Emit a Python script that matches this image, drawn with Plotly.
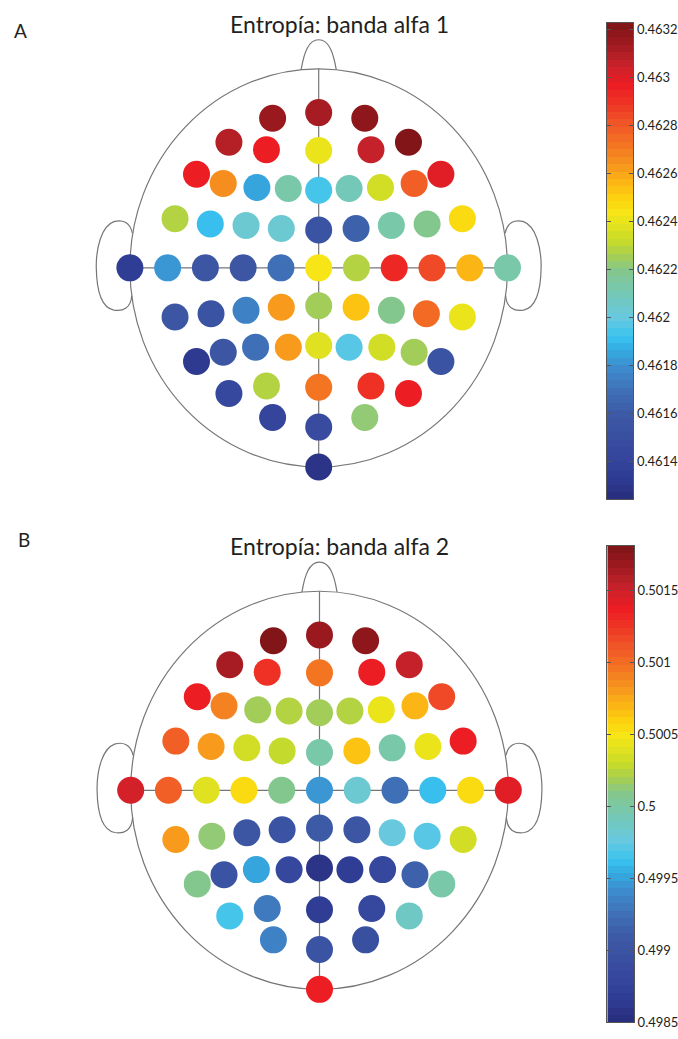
import numpy as np
import plotly.graph_objects as go

# ---- 64-channel montage (polar: angle from nose in degrees, radius in head units) ----
electrodes = ["Fp1", "Fpz", "Fp2", "AF7", "AF3", "AFz", "AF4", "AF8",
              "F7", "F5", "F3", "F1", "Fz", "F2", "F4", "F6", "F8",
              "FT7", "FC5", "FC3", "FC1", "FCz", "FC2", "FC4", "FC6", "FT8",
              "T9", "T7", "C5", "C3", "C1", "Cz", "C2", "C4", "C6", "T8", "T10",
              "TP7", "CP5", "CP3", "CP1", "CPz", "CP2", "CP4", "CP6", "TP8",
              "P7", "P5", "P3", "P1", "Pz", "P2", "P4", "P6", "P8",
              "PO7", "PO3", "POz", "PO4", "PO8",
              "O1", "Oz", "O2", "Iz"]
theta_deg = [-18, 0, 18, -37, -25, 0, 25, 37,
             -54, -50, -39, -22, 0, 22, 39, 50, 54,
             -72, -69, -61, -45, 0, 45, 61, 69, 72,
             -90, -90, -90, -90, -90, 0, 90, 90, 90, 90, 90,
             -108, -112, -119, -135, 180, 135, 119, 112, 108,
             -126, -130, -140, -158, 180, 158, 140, 130, 126,
             -143, -155, 180, 155, 143,
             -162, 180, 162, 180]
radius = [0.79, 0.78, 0.79, 0.79, 0.655, 0.59, 0.655, 0.79,
          0.80, 0.66, 0.52, 0.43, 0.39, 0.43, 0.52, 0.66, 0.80,
          0.80, 0.615, 0.44, 0.28, 0.19, 0.28, 0.44, 0.615, 0.80,
          1.0, 0.8, 0.6, 0.4, 0.2, 0.0, 0.2, 0.4, 0.6, 0.8, 1.0,
          0.80, 0.615, 0.44, 0.28, 0.19, 0.28, 0.44, 0.615, 0.80,
          0.80, 0.66, 0.52, 0.43, 0.39, 0.43, 0.52, 0.66, 0.80,
          0.79, 0.655, 0.60, 0.655, 0.79,
          0.79, 0.80, 0.79, 1.0]

# ---- entropy per electrode ----
entropy_alpha1 = [0.46315, 0.46313, 0.46319, 0.46309, 0.46297, 0.46241, 0.46305, 0.46322,
                  0.46297, 0.46267, 0.46186, 0.46212, 0.46194, 0.46208, 0.46233, 0.46279, 0.46301,
                  0.46229, 0.46192, 0.46202, 0.46204, 0.46154, 0.46164, 0.46214, 0.46220, 0.46247,
                  0.46136, 0.46182, 0.46158, 0.46158, 0.46168, 0.46245, 0.46229, 0.46295, 0.46283, 0.46257, 0.46214,
                  0.46158, 0.46154, 0.46176, 0.46263, 0.46225, 0.46253, 0.46218, 0.46275, 0.46241,
                  0.46132, 0.46156, 0.46168, 0.46263, 0.46237, 0.46196, 0.46233, 0.46224, 0.46154,
                  0.46144, 0.46227, 0.46273, 0.46289, 0.46297,
                  0.46140, 0.46146, 0.46222, 0.46128]
entropy_alpha2 = [0.50179, 0.50168, 0.50171, 0.50161, 0.50125, 0.50098, 0.50138, 0.50155,
                  0.50138, 0.50088, 0.50019, 0.50022, 0.50016, 0.50025, 0.50045, 0.50072, 0.50115,
                  0.50108, 0.50082, 0.50032, 0.50029, 0.49996, 0.50065, 0.49996, 0.50045, 0.50138,
                  0.50148, 0.50105, 0.50039, 0.50055, 0.50006, 0.49946, 0.49982, 0.49923, 0.49963, 0.50052, 0.50141,
                  0.50078, 0.50012, 0.49903, 0.49900, 0.49910, 0.49906, 0.49979, 0.49972, 0.50032,
                  0.50009, 0.49900, 0.49953, 0.49883, 0.49857, 0.49870, 0.49886, 0.49916, 0.49999,
                  0.49966, 0.49929, 0.49870, 0.49886, 0.49989,
                  0.49936, 0.49900, 0.49896, 0.50135]

# ---- colour limits and colour-bar ticks ----
clim_alpha1 = [0.46124, 0.46323]
clim_alpha2 = [0.49850, 0.50181]
ticks_alpha1 = [0.4614, 0.4616, 0.4618, 0.4620, 0.4622, 0.4624, 0.4626, 0.4628, 0.4630, 0.4632]
ticklabels_alpha1 = ["0.4614", "0.4616", "0.4618", "0.462", "0.4622", "0.4624", "0.4626", "0.4628", "0.463", "0.4632"]
ticks_alpha2 = [0.4985, 0.4990, 0.4995, 0.5000, 0.5005, 0.5010, 0.5015]
ticklabels_alpha2 = ["0.4985", "0.499", "0.4995", "0.5", "0.5005", "0.501", "0.5015"]

titles = ["Entropía: banda alfa 1", "Entropía: banda alfa 2"]
panel_letters = ["A", "B"]

# ---- jet-like palette, quantised to 64 levels ----
anchors = [(0.00, "#272c7b"), (0.04, "#2d3a90"), (0.08, "#33449a"), (0.12, "#384c9f"),
           (0.18, "#3d5aa6"), (0.23, "#3f72b8"), (0.28, "#3d8fcf"), (0.31, "#35a8e0"),
           (0.34, "#39c3f0"), (0.38, "#67c9e0"), (0.43, "#74c8b8"), (0.48, "#85c78b"),
           (0.51, "#a4ce55"), (0.54, "#c5da2b"), (0.58, "#e8e31c"), (0.60, "#f7e617"),
           (0.63, "#fdd20f"), (0.67, "#fbb117"), (0.71, "#f68f1f"), (0.75, "#f36f22"),
           (0.79, "#f05428"), (0.83, "#ee3524"), (0.87, "#ec1c24"), (0.91, "#c9222b"),
           (0.95, "#a11b21"), (1.00, "#7b1416")]


def _rgb(h):
    return np.array([int(h[i:i + 2], 16) for i in (1, 3, 5)], dtype=float)


def palette_at(f):
    fs = [a[0] for a in anchors]
    cs = np.array([_rgb(a[1]) for a in anchors])
    return tuple(int(round(np.interp(f, fs, cs[:, k]))) for k in range(3))


N_LEVELS = 64
stepped = []
for i in range(N_LEVELS):
    r, g, b = palette_at((i + 0.5) / N_LEVELS)
    col = f"rgb({r},{g},{b})"
    stepped.append([i / N_LEVELS, col])
    stepped.append([(i + 1) / N_LEVELS, col])

th = np.radians(theta_deg)
ex = np.array(radius) * np.sin(th)
ey = np.array(radius) * np.cos(th)

LINE = "#767676"
FONT = "Lato"
TEXT = "#231f20"

fig = go.Figure()

panels = [
    dict(vals=entropy_alpha1, clim=clim_alpha1, tv=ticks_alpha1, tt=ticklabels_alpha1,
         hx="x", hy="y", cx="x3", cy="y3"),
    dict(vals=entropy_alpha2, clim=clim_alpha2, tv=ticks_alpha2, tt=ticklabels_alpha2,
         hx="x2", hy="y2", cx="x4", cy="y4"),
]

shapes = []
for p in panels:
    # electrodes
    fig.add_trace(go.Scatter(
        x=ex, y=ey, mode="markers", xaxis=p["hx"], yaxis=p["hy"],
        text=electrodes, hovertemplate="%{text}: %{marker.color:.5f}<extra></extra>",
        marker=dict(size=27, color=p["vals"], colorscale=stepped,
                    cmin=p["clim"][0], cmax=p["clim"][1], showscale=False,
                    line=dict(width=0)),
        cliponaxis=False, showlegend=False))

    # colour bar drawn as a one-column heat map on its own axis
    lv = np.linspace(p["clim"][0], p["clim"][1], N_LEVELS + 1)
    centres = (lv[:-1] + lv[1:]) / 2
    fig.add_trace(go.Heatmap(
        x=[0], y=centres, z=[[c] for c in centres], xaxis=p["cx"], yaxis=p["cy"],
        colorscale=stepped, zmin=p["clim"][0], zmax=p["clim"][1],
        showscale=False, hoverinfo="skip"))

    # head outline, midlines, nose and ears
    xr, yr = p["hx"], p["hy"]
    common = dict(xref=xr, yref=yr, layer="below", line=dict(color=LINE, width=1.2))
    shapes.append(dict(type="circle", x0=-1, x1=1, y0=-1, y1=1, **common))
    shapes.append(dict(type="line", x0=-1, x1=1, y0=0, y1=0, **common))
    shapes.append(dict(type="line", x0=0, x1=0, y0=-1, y1=1, **common))
    shapes.append(dict(type="path",
                       path="M -0.093,0.996 C -0.078,1.08 -0.055,1.146 0,1.146 "
                            "C 0.055,1.146 0.078,1.08 0.093,0.996", **common))
    for s in (1, -1):
        ear = (f"M {0.987*s},0.175 C {1.00*s},0.23 {1.04*s},0.245 {1.085*s},0.232 "
               f"C {1.15*s},0.21 {1.18*s},0.10 {1.178*s},0 "
               f"C {1.176*s},-0.11 {1.15*s},-0.2 {1.085*s},-0.212 "
               f"C {1.035*s},-0.22 {0.995*s},-0.2 {0.99*s},-0.14")
        shapes.append(dict(type="path", path=ear, **common))

hidden = dict(visible=False, showgrid=False, zeroline=False)
cb_x = dict(range=[-0.5, 0.5], showgrid=False, zeroline=False, showticklabels=False,
            ticks="", showline=True, linecolor="#555555", linewidth=1, mirror=True)
cb_y = dict(side="right", showgrid=False, zeroline=False, ticks="inside", ticklen=4,
            tickcolor="#555555", showline=True, linecolor="#555555", linewidth=1,
            mirror="ticks", tickfont=dict(family=FONT, size=13, color=TEXT))

fig.update_layout(
    width=678, height=1039,
    margin=dict(l=0, r=0, t=0, b=0),
    paper_bgcolor="white", plot_bgcolor="white",
    xaxis=dict(domain=[0.10802, 0.83209], range=[-1.3, 1.3], anchor="y", **hidden),
    yaxis=dict(domain=[0.52445, 0.97282], range=[-1.12, 1.2], anchor="x", **hidden),
    xaxis2=dict(domain=[0.10920, 0.83327], range=[-1.3, 1.3], anchor="y2", **hidden),
    yaxis2=dict(domain=[0.01723, 0.46560], range=[-1.12, 1.2], anchor="x2", **hidden),
    xaxis3=dict(domain=[0.89484, 0.93407], anchor="y3", **cb_x),
    yaxis3=dict(domain=[0.51617, 0.97911], range=clim_alpha1, anchor="x3",
                tickvals=ticks_alpha1, ticktext=ticklabels_alpha1, **cb_y),
    xaxis4=dict(domain=[0.89571, 0.93510], anchor="y4", **cb_x),
    yaxis4=dict(domain=[0.00866, 0.47132], range=clim_alpha2, anchor="x4",
                tickvals=ticks_alpha2, ticktext=ticklabels_alpha2, **cb_y),
    shapes=shapes,
    annotations=[
        dict(text=titles[0], x=0.5, y=1 - 23.5 / 1039, xref="paper", yref="paper",
             xanchor="center", yanchor="middle", showarrow=False,
             font=dict(family=FONT, size=23, color=TEXT)),
        dict(text=titles[1], x=0.5, y=1 - 549.5 / 1039, xref="paper", yref="paper",
             xanchor="center", yanchor="middle", showarrow=False,
             font=dict(family=FONT, size=23, color=TEXT)),
        dict(text=panel_letters[0], x=12 / 678, y=1 - 29.5 / 1039, xref="paper", yref="paper",
             xanchor="left", yanchor="middle", showarrow=False,
             font=dict(family=FONT, size=19, color=TEXT)),
        dict(text=panel_letters[1], x=16 / 678, y=1 - 543 / 1039, xref="paper", yref="paper",
             xanchor="left", yanchor="middle", showarrow=False,
             font=dict(family=FONT, size=19, color=TEXT)),
    ],
)

fig.write_html("out.html")
